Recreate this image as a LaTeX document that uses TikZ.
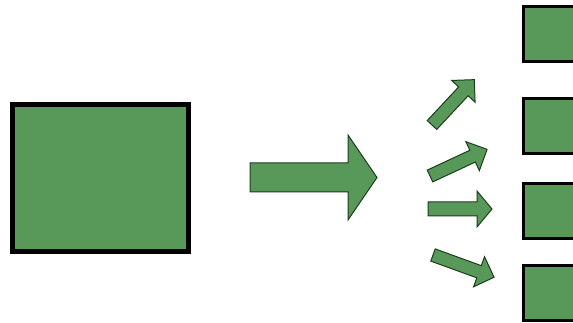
\documentclass[tikz,border=0pt]{standalone}
\definecolor{gfill}{RGB}{88,152,88}
\definecolor{gedge}{RGB}{30,60,30}
\tikzset{
  bigbox/.style={fill=gfill, draw=black, line width=5pt},
  smallbox/.style={fill=gfill, draw=black, line width=3pt},
  fatarrow/.style={fill=gfill, draw=gedge, line width=1pt, line join=miter},
}
\newcommand{\myarrow}[6]{%
  \begin{scope}[shift={(#1)}, rotate=#2]
    \filldraw[fatarrow] (0,-#4) -- ({#3-#6},-#4) -- ({#3-#6},-#5) -- (#3,0) -- ({#3-#6},#5) -- ({#3-#6},#4) -- (0,#4) -- cycle;
  \end{scope}}
\begin{document}
\begin{tikzpicture}[x=1pt,y=-1pt]
\useasboundingbox (0,0) rectangle (573,323);
\clip (0,0) rectangle (573,323);
\fill[white] (0,0) rectangle (573,323);
% big box
\draw[bigbox] (12.5,104.5) rectangle (188.5,251.5);
% big arrow
\filldraw[fatarrow] (250,163) -- (348,163) -- (348,135) -- (377,177.5) -- (348,220) -- (348,192) -- (250,192) -- cycle;
% small arrows
\myarrow{432,125}{47}{62}{6.5}{16}{16}
\myarrow{430,176}{25}{63}{6.5}{16}{16}
\myarrow{428,209}{0}{64}{7}{18}{15}
\myarrow{433,255}{-20}{65}{6.5}{16}{16}
% small squares
\draw[smallbox] (523.5,6.5) rectangle (590,61.5);
\draw[smallbox] (523.5,98.5) rectangle (590,153.5);
\draw[smallbox] (523.5,183.5) rectangle (590,238.5);
\draw[smallbox] (523.5,265.5) rectangle (590,320.5);
\end{tikzpicture}
\end{document}
